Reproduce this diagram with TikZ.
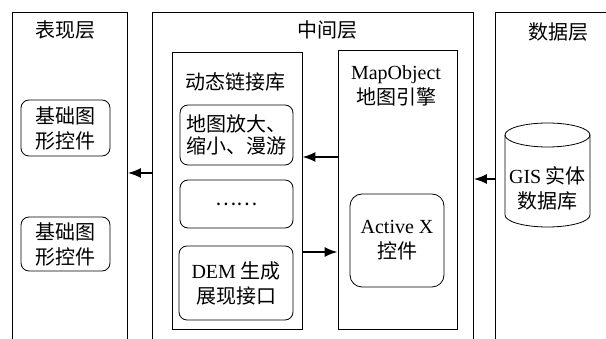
\documentclass[tikz,border=0pt]{standalone}
\usepackage{fontspec}
\setmainfont{Liberation Serif}
\newfontfamily\cjk{Noto Sans CJK SC}
\usetikzlibrary{arrows.meta}
\newcommand\lat[1]{{\rmfamily #1}}

\tikzset{
  txt/.style={font=\fontsize{20}{25}\selectfont\cjk, align=center, inner sep=0pt},
  layer/.style={minimum height=360, anchor=north west, inner sep=0pt},
  box/.style={draw, txt},
  ctrl/.style={box, rounded corners=8pt},
  arr/.style={line width=2pt, -{Latex[length=13pt, width=10pt]}},
}

\begin{document}
\begin{tikzpicture}[x=1pt, y=-1pt, line width=0.8pt]
    \useasboundingbox (0,0) rectangle (606,339);
    % the three layers, open at the bottom
    \node[layer, minimum width=115] (show) at (12,12) {};
    \node[layer, minimum width=321] (mid) at (152,12) {};
    \node[layer, minimum width=130] (data) at (495,12) {};
    \draw (show.south west) |- (show.north east) -- (show.south east);
    \draw (mid.south west) |- (mid.north east) -- (mid.south east);
    \draw (data.south west) |- (data.north east);
    \node[txt] (showt) at (65,30) {表现层};
    \node[txt] (midt) at (327,30) {中间层};
    \node[txt] (datat) at (558,32) {数据层};

    % presentation layer
    \node[ctrl, minimum width=89, minimum height=56] (base1) at (65.5,128) {基础图\\形控件};
    \node[ctrl, minimum width=89, minimum height=54] (base2) at (65.5,244) {基础图\\形控件};

    % middle layer
    \node[box, minimum width=130, minimum height=277] (dll) at (237,190.5) {};
    \node[txt] (dllt) at (235,82) {动态链接库};
    \node[ctrl, minimum width=113, minimum height=60, font=\fontsize{20}{22}\selectfont\cjk] (zoom) at (236.5,135) {地图放大、\\缩小、漫游};
    \node[ctrl, minimum width=113, minimum height=48] (dots) at (236.5,204) {……};
    \node[ctrl, minimum width=114, minimum height=74] (dem) at (236,283) {\lat{DEM} 生成\\展现接口};
    \node[box, minimum width=119, minimum height=279] (engine) at (397.5,189.5) {};
    \node[txt] (enginet) at (396,85.5) {\lat{MapObject}\\地图引擎};
    \node[box, rounded corners=12pt, minimum width=94, minimum height=93] (activex) at (397,240.5) {\lat{Active X}\\控件};

    % data layer
    \draw (505,135) -- (505,215) arc[start angle=180, end angle=0, x radius=42.5, y radius=12] -- (590,135);
    \draw (547.5,135) ellipse[x radius=42.5, y radius=12];
    \node[txt] (gis) at (547.5,188) {\lat{GIS} 实体\\数据库};

    % connectors
    \draw[arr] (mid.west |- 0,173) -- (show.east |- 0,173);
    \draw[arr] (engine.west |- 0,157) -- (dll.east |- 0,157);
    \draw[arr] (dll.east |- 0,252) -- (engine.west |- 0,252);
    \draw[arr] (data.west |- 0,179) -- (mid.east |- 0,179);
\end{tikzpicture}
\end{document}
